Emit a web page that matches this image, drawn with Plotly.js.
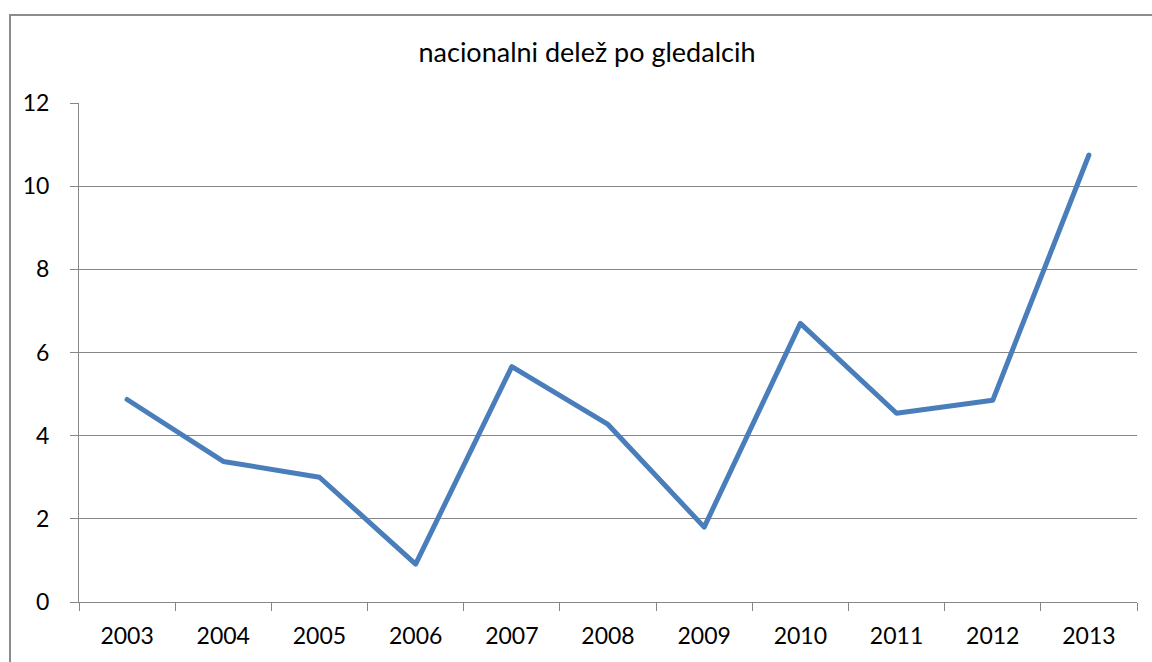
<!DOCTYPE html>
<html>
<head>
<meta charset="utf-8">
<script src="https://cdn.plot.ly/plotly-3.0.1.min.js"></script>
<style>
  html, body { margin: 0; padding: 0; background: #fff; }
  #wrap { position: relative; width: 1152px; height: 662px; overflow: hidden; }
  #chart { width: 1152px; height: 662px; }
  #frame { position: absolute; left: 9px; top: 14px; width: 1200px; height: 700px;
           border-left: 2px solid #8c8c8c; border-top: 2px solid #8c8c8c; pointer-events: none; }
  .scatterlayer .js-line { stroke-linecap: round; stroke-linejoin: round; }
</style>
</head>
<body>
<div id="wrap">
  <div id="chart"></div>
  <div id="frame"></div>
</div>
<script>
const years = ["2003","2004","2005","2006","2007","2008","2009","2010","2011","2012","2013"];
const share = [4.87, 3.38, 3.0, 0.91, 5.66, 4.27, 1.8, 6.7, 4.54, 4.85, 10.75];
const yTicks = [0, 2, 4, 6, 8, 10, 12];
const titleText = "nacionalni delež po gledalcih";

const font = "Lato, Carlito, Calibri, 'Open Sans', sans-serif";

Plotly.newPlot("chart", [{
  type: "scatter",
  mode: "lines",
  x: years,
  y: share,
  line: { color: "#4a7ebb", width: 5 },
  hoverinfo: "x+y"
}], {
  width: 1152,
  height: 662,
  margin: { l: 79, r: 15, t: 103, b: 60 },
  paper_bgcolor: "#ffffff",
  plot_bgcolor: "#ffffff",
  showlegend: false,
  title: {
    text: titleText,
    font: { family: font, size: 27, color: "#000" },
    xref: "container", x: 587 / 1152, xanchor: "center",
    yref: "container", y: 1 - 53 / 662, yanchor: "middle"
  },
  xaxis: {
    type: "category",
    range: [-0.5, 10.5],
    tickson: "boundaries",
    ticks: "outside",
    ticklen: 8,
    tickcolor: "#868686",
    tickwidth: 1,
    showline: true,
    linecolor: "#868686",
    linewidth: 1,
    showgrid: false,
    zeroline: false,
    tickfont: { family: font, size: 23, color: "#000" },
    ticklabelstandoff: 13,
    fixedrange: true
  },
  yaxis: {
    range: [0, 12],
    tickvals: yTicks,
    ticktext: yTicks.map(String),
    ticks: "outside",
    ticklen: 8,
    tickcolor: "#868686",
    tickwidth: 1,
    showline: true,
    linecolor: "#868686",
    linewidth: 1,
    showgrid: true,
    gridcolor: "#868686",
    gridwidth: 1,
    zeroline: false,
    tickfont: { family: font, size: 23, color: "#000" },
    ticklabelstandoff: 16,
    fixedrange: true
  }
}, { displayModeBar: false });
</script>
</body>
</html>
